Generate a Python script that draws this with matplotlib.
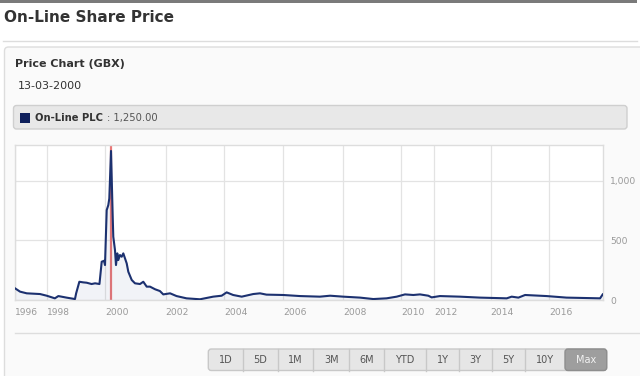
import numpy as np
import matplotlib.pyplot as plt
from matplotlib.patches import FancyBboxPatch, Rectangle
from matplotlib.ticker import FixedLocator

# price history (decimal year, GBX)
dates = [1996.0, 1996.32, 1996.74, 1997.58, 1998.0, 1998.28, 1998.40, 1998.68, 1998.97,
         1999.01, 1999.12, 1999.25, 1999.37, 1999.54, 1999.66, 1999.81, 1999.887, 1999.966,
         2000.0, 2000.056, 2000.109, 2000.142, 2000.198, 2000.254, 2000.273, 2000.329, 2000.362,
         2000.405, 2000.438, 2000.494, 2000.550, 2000.603, 2000.659, 2000.715, 2000.768, 2000.880,
         2000.988, 2001.153, 2001.262, 2001.374, 2001.483, 2001.65, 2001.81, 2001.92, 2002.15,
         2002.37, 2002.71, 2003.17, 2003.62, 2003.91, 2004.08, 2004.30, 2004.59, 2004.98,
         2005.21, 2005.43, 2006.0, 2006.56, 2007.22, 2007.56, 2008.0, 2008.58, 2009.04,
         2009.50, 2009.85, 2010.24, 2010.74, 2011.14, 2011.64, 2011.84, 2012.20, 2012.91,
         2013.62, 2014.55, 2014.72, 2014.95, 2015.18, 2015.92, 2016.60, 2017.75, 2017.84]
prices = [98, 70, 56, 50, 36, 14, 33, 20, 8,
          56, 153, 148, 145, 134, 140, 134, 321, 329,
          293, 754, 796, 852, 1250, 698, 531, 419, 293,
          391, 335, 377, 363, 391, 349, 307, 237, 168,
          140, 134, 153, 112, 112, 90, 75, 47, 56,
          33, 14, 6, 28, 36, 64, 42, 28, 50,
          56, 45, 42, 33, 28, 36, 28, 20, 8,
          14, 28, 47, 42, 47, 36, 22, 33, 28,
          20, 14, 28, 20, 42, 33, 20, 14, 47]
selected_date = 2000.198
selected_label = '13-03-2000'
selected_price = '1,250.00'
series_name = 'On-Line PLC'

tick_years = [1996, 1998, 2000, 2002, 2004, 2006, 2008, 2010, 2012, 2014, 2016]
y_ticks = [0, 500, 1000]
y_labels = ['0', '500', '1,000']
buttons = ['1D', '5D', '1M', '3M', '6M', 'YTD', '1Y', '3Y', '5Y', '10Y', 'Max']

# ordinal axis (gaps in trading data squeeze some years)
break_years = tick_years + [2017.85]
break_pos = [15, 46.7, 105, 165.7, 224.3, 283.3, 343.3, 401, 434.3, 490.7, 549, 603]

def fwd(x):
    return np.interp(x, break_years, break_pos)

def inv(p):
    return np.interp(p, break_pos, break_years)

W, H = 640, 376
fig = plt.figure(figsize=(6.4, 3.76), dpi=100)
fig.patch.set_facecolor('white')

# page decoration layer in pixel coords
bg = fig.add_axes([0, 0, 1, 1])
bg.set_xlim(0, W)
bg.set_ylim(H, 0)
bg.axis('off')
bg.add_patch(Rectangle((0, 0), 637, 2.5, color='#7a7a7a', lw=0))
bg.text(4, 18, 'On-Line Share Price', fontsize=11, fontweight='bold', color='#333333', va='center')
bg.plot([3, 637], [40.7, 40.7], color='#dddddd', lw=1)
bg.add_patch(FancyBboxPatch((4.5, 47), 660, 360, boxstyle='round,pad=0,rounding_size=4',
                            fc='#fafafa', ec='#dddddd', lw=1))
bg.text(15, 64, 'Price Chart (GBX)', fontsize=8, fontweight='bold', color='#333333', va='center')
bg.text(18, 86, selected_label, fontsize=8, color='#333333', va='center')
bg.add_patch(FancyBboxPatch((13.5, 105.5), 613.5, 23.5, boxstyle='round,pad=0,rounding_size=3',
                            fc='#e8e8e8', ec='#cfcfcf', lw=1))
bg.add_patch(Rectangle((20, 112.5), 10, 10, color='#0e1f5b', lw=0))
name_txt = bg.text(35, 118, series_name, fontsize=7.2, fontweight='bold', color='#333333', va='center')
fig.canvas.draw()
bb = name_txt.get_window_extent()
bg.text(bb.x1 + 4, 118, ': ' + selected_price, fontsize=7.2, color='#555555', va='center')
bg.plot([15, 640], [333, 333], color='#dddddd', lw=1)

# range selector buttons
edges = [208.3, 243.3, 277.7, 313.3, 349.3, 384.3, 426, 459.3, 492, 525, 565, 606.7]
bg.add_patch(FancyBboxPatch((edges[0], 349), edges[-1] - edges[0], 21.5,
                            boxstyle='round,pad=0,rounding_size=3', fc='#e6e6e6', ec='#c8c8c8', lw=1))
bg.add_patch(FancyBboxPatch((edges[-2], 349), edges[-1] - edges[-2], 21.5,
                            boxstyle='round,pad=0,rounding_size=3', fc='#9e9e9e', ec='#8e8e8e', lw=1))
for i, b in enumerate(buttons):
    if 0 < i < len(buttons) - 1:
        bg.plot([edges[i], edges[i]], [349, 370.5], color='#c8c8c8', lw=1)
    sel = b == 'Max'
    bg.text((edges[i] + edges[i + 1]) / 2, 360, b, fontsize=7, ha='center', va='center',
            color='#f2f2f2' if sel else '#555555')

# price chart
ax = fig.add_axes([15 / W, (H - 300) / H, 588 / W, 155 / H])
ax.set_facecolor('white')
ax.set_xscale('function', functions=(fwd, inv))
ax.set_xlim(1996, 2017.85)
ax.set_ylim(0, 1300)
ax.axvline(selected_date, color='#e87878', lw=1.6, zorder=2)
ax.fill_between(dates, prices, 0, color='#1f3a7a', alpha=0.06, lw=0, zorder=2)
ax.plot(dates, prices, color='#1c3170', lw=1.5, zorder=3)

ax.xaxis.set_major_locator(FixedLocator(tick_years))
ax.set_xticklabels([str(y) for y in tick_years])
for lab in ax.get_xticklabels():
    lab.set_ha('left')
ax.set_yticks(y_ticks)
ax.set_yticklabels(y_labels)
ax.yaxis.tick_right()
for lab in ax.get_yticklabels():
    lab.set_ha('left')
ax.tick_params(axis='x', length=0, pad=6, labelsize=6.6, labelcolor='#999999')
ax.tick_params(axis='y', length=0, pad=5, labelsize=6.6, labelcolor='#999999')
ax.grid(True, color='#e3e3e3', lw=0.9, zorder=0)
ax.set_axisbelow(True)
for s in ax.spines.values():
    s.set_color('#dddddd')
    s.set_linewidth(1)

fig.savefig('out.png', dpi=100)
